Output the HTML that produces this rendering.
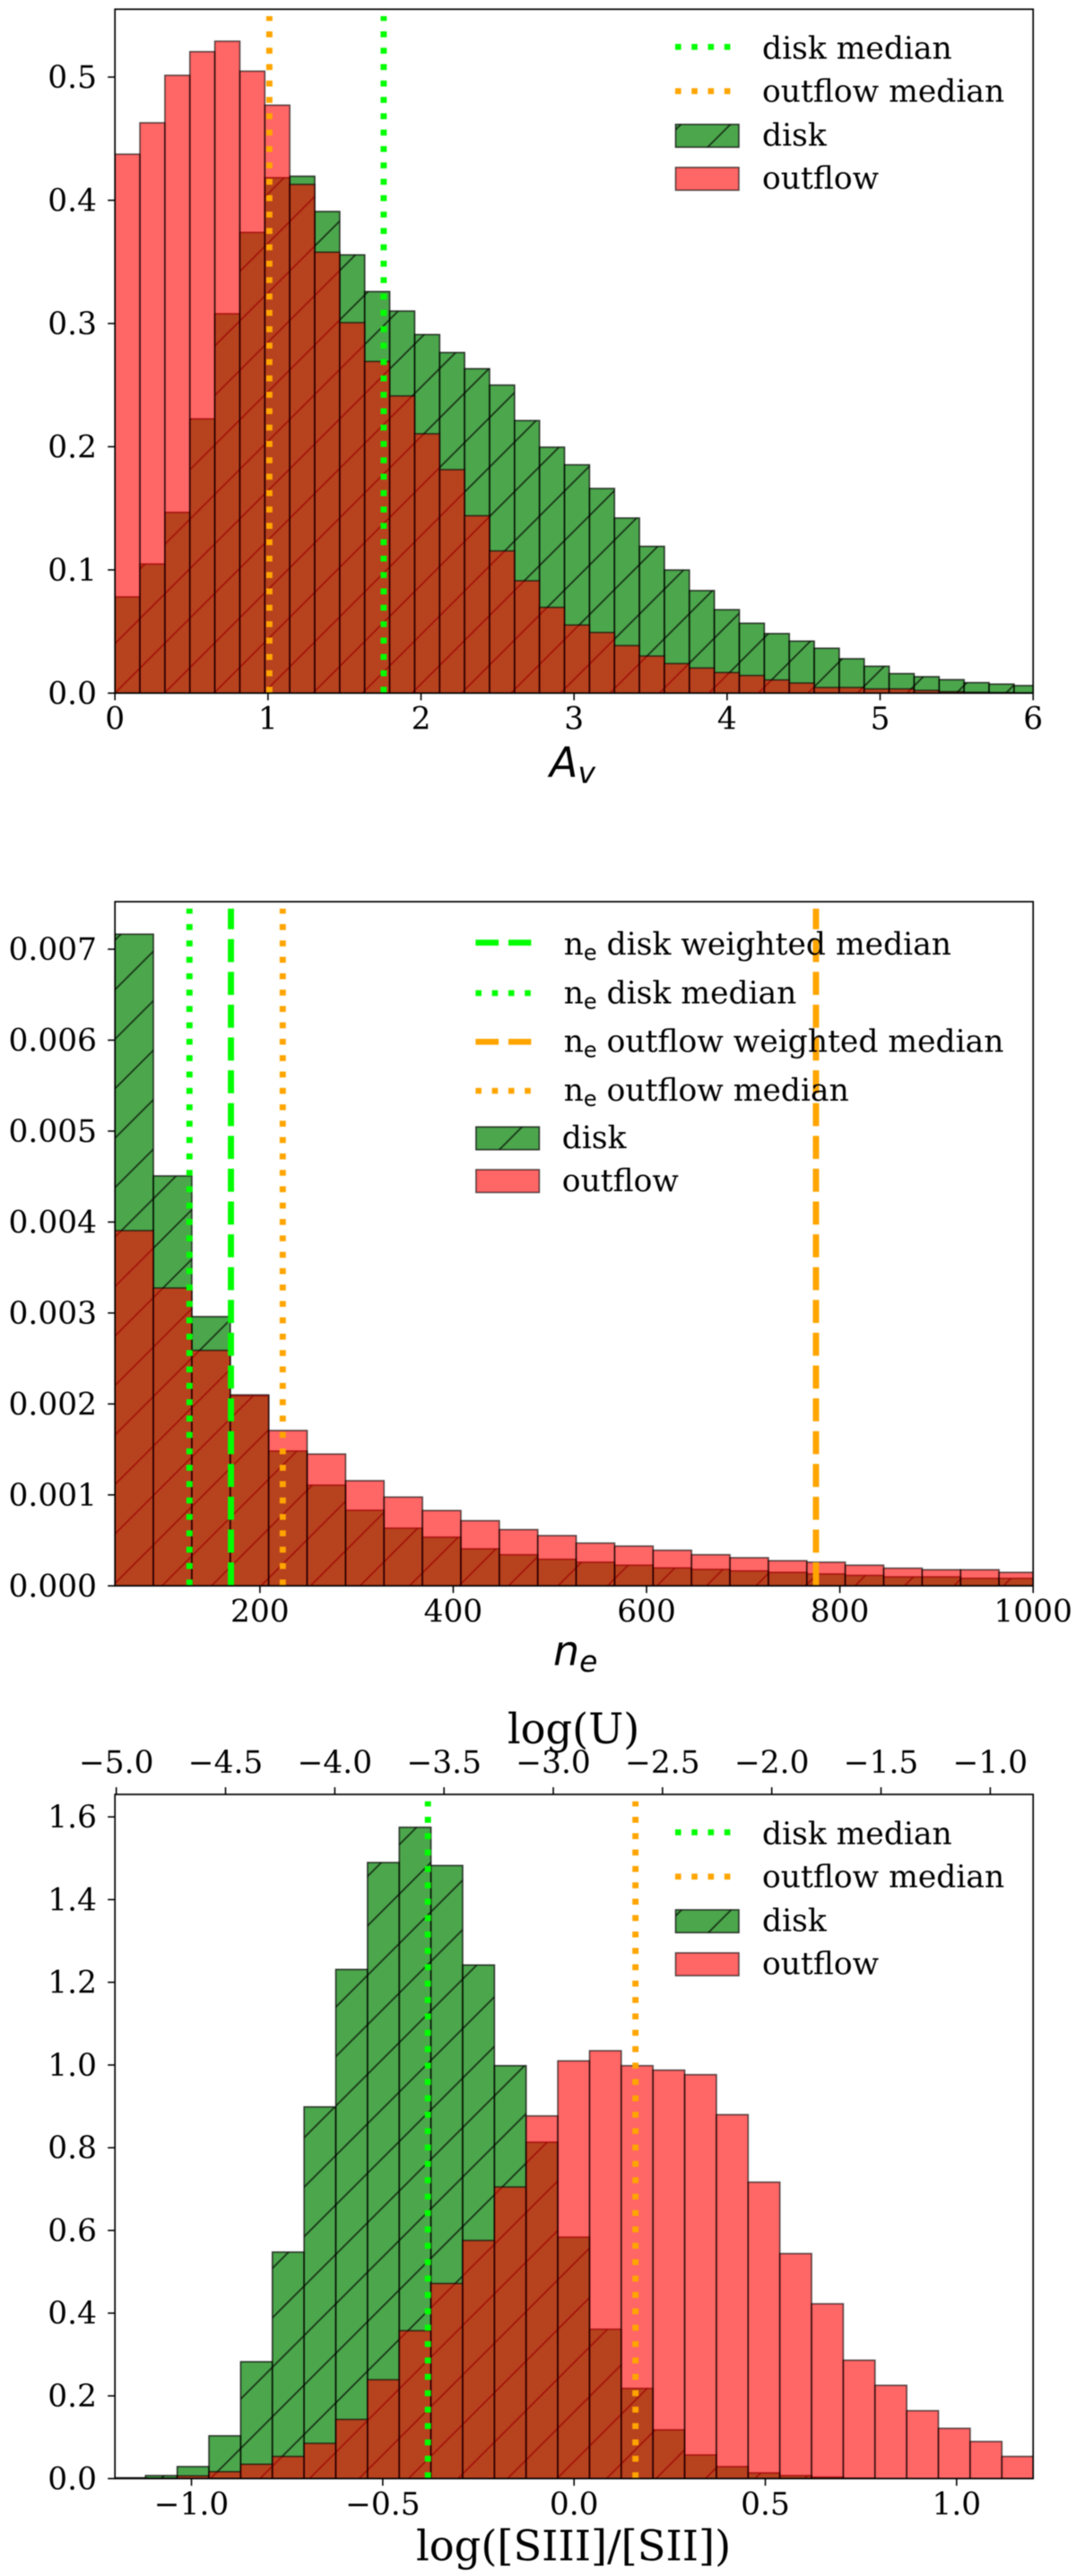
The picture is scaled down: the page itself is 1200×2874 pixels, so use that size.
<!DOCTYPE html>
<html>
<head>
<meta charset="utf-8">
<title>Histograms of Av, ne and log([SIII]/[SII])</title>
<style>
html,body{margin:0;padding:0;background:#fff;width:1200px;height:2874px;overflow:hidden}
svg{display:block;filter:blur(.45px)}
text{font-family:"DejaVu Serif","Liberation Serif",serif;fill:#000}
</style>
</head>
<body>
<svg id="figure" xmlns="http://www.w3.org/2000/svg" width="1200" height="2874" viewBox="0 0 1200 2874">
<defs id="defs"></defs>
</svg>
<script>
// ---------- Av panel data ----------
const avBinStart = 0;
const avBinWidth = 0.1632;
const avDisk = [0.0781,0.1048,0.1467,0.2226,0.3079,0.3739,0.4183,0.4195,0.3909,0.3557,0.3259,0.3101,0.2910,0.2764,0.2633,0.2500,0.2212,0.1996,0.1853,0.1661,0.1421,0.1191,0.0999,0.0832,0.0677,0.0567,0.0483,0.0422,0.0364,0.0279,0.0218,0.0158,0.0133,0.0109,0.0085,0.0073,0.0061];
const avOutflow = [0.4374,0.4629,0.5014,0.5206,0.5291,0.5048,0.4772,0.4129,0.3579,0.3007,0.2692,0.2412,0.2105,0.1814,0.1440,0.1154,0.0912,0.0696,0.0553,0.0492,0.0386,0.0301,0.0240,0.0204,0.0167,0.0143,0.0107,0.0082,0.0046,0.0046,0.0034,0.0034,0.0022,0.0012,0.0007,0.0005,0.0002];
const avXTicks = [0,1,2,3,4,5,6];
const avXLabels = ['0','1','2','3','4','5','6'];
const avYTicks = [0,0.1,0.2,0.3,0.4,0.5];
const avYLabels = ['0.0','0.1','0.2','0.3','0.4','0.5'];
const avDiskMedian = 1.756;
const avOutflowMedian = 1.009;

// ---------- ne panel data ----------
const neBinStart = 50;
const neBinWidth = 39.77;
const neDisk = [0.007165,0.004507,0.00296,0.00209,0.001482,0.001107,0.000831,0.000634,0.000535,0.000407,0.000342,0.000292,0.00026,0.000227,0.000197,0.000181,0.000164,0.000148,0.000131,0.000115,0.0000986,0.0000986,0.0000821,0.0000821];
const neOutflow = [0.003906,0.003275,0.002589,0.0021,0.001708,0.001449,0.001156,0.000976,0.000828,0.000716,0.000618,0.000552,0.00047,0.000437,0.000391,0.000342,0.000309,0.000276,0.00026,0.000227,0.000194,0.000177,0.000177,0.000148];
const neXTicks = [200,400,600,800,1000];
const neXLabels = ['200','400','600','800','1000'];
const neYTicks = [0,0.001,0.002,0.003,0.004,0.005,0.006,0.007];
const neYLabels = ['0.000','0.001','0.002','0.003','0.004','0.005','0.006','0.007'];
const neDiskMedian = 127.1;
const neDiskWeightedMedian = 170;
const neOutflowMedian = 223.6;
const neOutflowWeightedMedian = 775.3;

// ---------- log([SIII]/[SII]) panel data ----------
const siiiBinStart = -1.203;
const siiiBinWidth = 0.0829;
const siiiDisk = [0.002,0.0072,0.0289,0.1033,0.2825,0.5476,0.8987,1.231,1.4896,1.5748,1.4823,1.2418,0.9983,0.8134,0.5837,0.3611,0.218,0.1178,0.0571,0.0289,0.0137,0.0072,0.0036,0.001,0,0,0,0,0];
const siiiOutflow = [0,0.001,0.0065,0.0166,0.0347,0.0535,0.0852,0.143,0.2391,0.3576,0.4718,0.5758,0.7051,0.8769,1.01,1.0345,0.9983,0.9875,0.9766,0.8799,0.7167,0.544,0.4226,0.2861,0.2254,0.164,0.1214,0.0896,0.0535];
const siiiXTicks = [-1,-0.5,0,0.5,1];
const siiiXLabels = ['\u22121.0','\u22120.5','0.0','0.5','1.0'];
const siiiYTicks = [0,0.2,0.4,0.6,0.8,1,1.2,1.4,1.6];
const siiiYLabels = ['0.0','0.2','0.4','0.6','0.8','1.0','1.2','1.4','1.6'];
const logUTicks = [-5,-4.5,-4,-3.5,-3,-2.5,-2,-1.5,-1];
const logULabels = ['\u22125.0','\u22124.5','\u22124.0','\u22123.5','\u22123.0','\u22122.5','\u22122.0','\u22121.5','\u22121.0'];
const siiiDiskMedian = -0.382;
const siiiOutflowMedian = 0.1605;

// ---------- drawing ----------
const NS = 'http://www.w3.org/2000/svg';
const svg = document.getElementById('figure');
const defs = document.getElementById('defs');
const GREEN = '#00ff00';
const ORANGE = '#ffa500';
const TICK_SIZE = 34.4;
const LEGEND_SIZE = 34.5;
const HATCH_PERIOD = 55.2;
const DOT = '6.6 11.68';
const DASH = '25.7 10.9';

function node(tag, attrs, parent) {
  const e = document.createElementNS(NS, tag);
  for (const k in attrs) e.setAttribute(k, attrs[k]);
  if (parent) parent.appendChild(e);
  return e;
}
function label(parent, x, y, str, size, anchor) {
  const t = node('text', {x: x, y: y, 'font-size': size, 'text-anchor': anchor || 'start'}, parent);
  t.textContent = str;
  return t;
}
function makeHatch(id, phase) {
  const P = HATCH_PERIOD;
  const p = node('pattern', {id: id, patternUnits: 'userSpaceOnUse', width: P, height: P,
    patternTransform: 'translate(' + phase + ' 0)'}, defs);
  node('path', {d: 'M0 ' + P + 'L' + P + ' 0M-2 2L2 -2M' + (P - 2) + ' ' + (P + 2) + 'L' + (P + 2) + ' ' + (P - 2),
    stroke: '#000', 'stroke-opacity': 0.7, 'stroke-width': 1.7, fill: 'none'}, p);
}

function drawPanel(cfg) {
  const g = node('g', {}, svg);
  
  
  const L = 128.2, R = 1152.2;
  const xScale = v => L + (v - cfg.xMin) / (cfg.xMax - cfg.xMin) * (R - L);
  const yScale = v => cfg.bottom - v * cfg.yPerUnit;

  const clip = node('clipPath', {id: cfg.name + '-clip'}, defs);
  node('rect', {x: L, y: cfg.top, width: R - L, height: cfg.bottom - cfg.top}, clip);
  makeHatch(cfg.name + '-hatch', cfg.hatchPhase);
  makeHatch(cfg.name + '-legend-hatch', cfg.legendHatchPhase);

  const plot = node('g', {'clip-path': 'url(#' + cfg.name + '-clip)'}, g);
  
  

  // disk histogram
  cfg.disk.forEach((v, i) => {
    const x0 = xScale(cfg.binStart + i * cfg.binWidth);
    const x1 = xScale(cfg.binStart + (i + 1) * cfg.binWidth);
    const y = yScale(v);
    const attrs = {x: x0, y: y, width: x1 - x0, height: cfg.bottom - y};
    const bar = node('rect', Object.assign({fill: 'rgb(0,128,0)', 'fill-opacity': 0.7}, attrs), plot);
    
    
    const hatch = node('rect', Object.assign({fill: 'url(#' + cfg.name + '-hatch)', stroke: '#000', 'stroke-opacity': 0.7, 'stroke-width': 1.7}, attrs), plot);
    
    
  });
  // outflow histogram
  cfg.outflow.forEach((v, i) => {
    const x0 = xScale(cfg.binStart + i * cfg.binWidth);
    const x1 = xScale(cfg.binStart + (i + 1) * cfg.binWidth);
    const y = yScale(v);
    const bar = node('rect', {x: x0, y: y, width: x1 - x0, height: cfg.bottom - y, fill: 'rgb(255,0,0)', 'fill-opacity': 0.6,
      stroke: '#000', 'stroke-opacity': 0.6, 'stroke-width': 1.7}, plot);
    
    
  });
  // median lines
  cfg.medians.forEach(m => {
    const x = xScale(m.value);
    const line = node('line', {x1: x, x2: x, y1: cfg.bottom - 0.5, y2: cfg.top + 7.7, stroke: m.color, 'stroke-width': 6.9,
      'stroke-dasharray': m.dashed ? DASH : DOT}, plot);
    
    
  });

  // spines
  const spine = node('rect', {x: L, y: cfg.top, width: R - L, height: cfg.bottom - cfg.top, fill: 'none', stroke: '#000', 'stroke-width': 1.7}, g);
  
  

  // y axis
  cfg.yTicks.forEach((v, i) => {
    const y = yScale(v);
    const tick = node('line', {x1: L - 8, x2: L, y1: y, y2: y, stroke: '#000', 'stroke-width': 1.6}, g);
    
    
    const t = label(g, 108, y + 12, cfg.yLabels[i], TICK_SIZE, 'end');
    
    
  });
  // x axis
  cfg.xTicks.forEach((v, i) => {
    const x = xScale(v);
    const tick = node('line', {x1: x, x2: x, y1: cfg.bottom, y2: cfg.bottom + 8, stroke: '#000', 'stroke-width': 1.6}, g);
    
    
    const t = label(g, x, cfg.bottom + 40, cfg.xLabels[i], TICK_SIZE, 'middle');
    
    
  });

  // legend
  const leg = node('g', {}, g);
  
  
  cfg.legend.forEach(item => {
    const e = node('g', {}, leg);
    
    
    const hx = cfg.legendX;
    if (item.kind === 'line') {
      const h = node('line', {x1: hx, x2: hx + 62, y1: item.y, y2: item.y, stroke: item.color, 'stroke-width': 6.6,
        'stroke-dasharray': item.dashed ? DASH : DOT}, e);
      
      
    } else {
      const attrs = {x: hx + 0.5, y: item.y, width: 70.5, height: 25.4};
      const base = node('rect', Object.assign({fill: item.fill, 'fill-opacity': item.alpha}, attrs), e);
      
      
      const o = node('rect', Object.assign({fill: item.hatched ? 'url(#' + cfg.name + '-legend-hatch)' : 'none', stroke: '#000',
        'stroke-opacity': item.alpha, 'stroke-width': 1.7}, attrs), e);
      
      
    }
    const t = node('text', {x: item.textX, y: item.base, 'font-size': LEGEND_SIZE}, e);
    
    
    if (item.math) {
      const n = node('tspan', {}, t); n.textContent = 'n';
      const s = node('tspan', {dy: 6, 'font-size': 24, style: 'font-family:"DejaVu Sans",sans-serif'}, t); s.textContent = 'e';
      const r = node('tspan', {dy: -6}, t); r.textContent = '\u00a0' + item.text;
    } else {
      t.textContent = item.text;
    }
  });
  return {g: g, xScale: xScale, yScale: yScale};
}

function stdLegend(offset) {
  const tx = 850;
  return [
    {kind: 'line', color: GREEN, y: 52.3 + offset, text: 'disk median', textX: tx, base: 65.3 + offset},
    {kind: 'line', color: ORANGE, y: 101.7 + offset, text: 'outflow median', textX: tx, base: 113.3 + offset},
    {kind: 'patch', fill: 'rgb(0,128,0)', alpha: 0.7, hatched: true, y: 138.8 + offset, text: 'disk', textX: tx, base: 162.7 + offset},
    {kind: 'patch', fill: 'rgb(255,0,0)', alpha: 0.6, hatched: false, y: 186.8 + offset, text: 'outflow', textX: tx, base: 210.7 + offset}
  ];
}

// Panel 1: Av
const p1 = drawPanel({
  name: 'av-panel', top: 10.3, bottom: 773.3, yPerUnit: 1374.6, xMin: 0, xMax: 6,
  binStart: avBinStart, binWidth: avBinWidth, disk: avDisk, outflow: avOutflow,
  xTicks: avXTicks, xLabels: avXLabels, yTicks: avYTicks, yLabels: avYLabels,
  hatchPhase: 18.3, legendHatchPhase: 15, legendX: 753,
  medians: [
    {value: avDiskMedian, color: GREEN, name: 'disk-median-line'},
    {value: avOutflowMedian, color: ORANGE, name: 'outflow-median-line'}
  ],
  legend: stdLegend(0)
});
const avTitle = node('text', {x: 613, y: 866.7, 'font-size': 46, style: 'font-family:"DejaVu Sans",sans-serif;font-style:italic'}, p1.g);


const avA = node('tspan', {}, avTitle); avA.textContent = 'A';
const avV = node('tspan', {dy: 7, 'font-size': 33}, avTitle); avV.textContent = 'v';

// Panel 2: ne
const neTx = 628.7;
const p2 = drawPanel({
  name: 'ne-panel', top: 1006, bottom: 1769.3, yPerUnit: 101470, xMin: 50, xMax: 1000,
  binStart: neBinStart, binWidth: neBinWidth, disk: neDisk, outflow: neOutflow,
  xTicks: neXTicks, xLabels: neXLabels, yTicks: neYTicks, yLabels: neYLabels,
  hatchPhase: 18, legendHatchPhase: 17.9, legendX: 530.4,
  medians: [
    {value: neDiskWeightedMedian, color: GREEN, dashed: true, name: 'disk-weighted-median-line'},
    {value: neDiskMedian, color: GREEN, name: 'disk-median-line'},
    {value: neOutflowWeightedMedian, color: ORANGE, dashed: true, name: 'outflow-weighted-median-line'},
    {value: neOutflowMedian, color: ORANGE, name: 'outflow-median-line'}
  ],
  legend: [
    {kind: 'line', color: GREEN, dashed: true, y: 1051.7, math: true, text: 'disk weighted median', textX: neTx, base: 1065},
    {kind: 'line', color: GREEN, y: 1108, math: true, text: 'disk median', textX: neTx, base: 1119.3},
    {kind: 'line', color: ORANGE, dashed: true, y: 1162.3, math: true, text: 'outflow weighted median', textX: neTx, base: 1173.3},
    {kind: 'line', color: ORANGE, y: 1217, math: true, text: 'outflow median', textX: neTx, base: 1228},
    {kind: 'patch', fill: 'rgb(0,128,0)', alpha: 0.7, hatched: true, y: 1257.3, text: 'disk', textX: 626.8, base: 1281},
    {kind: 'patch', fill: 'rgb(255,0,0)', alpha: 0.6, hatched: false, y: 1305, text: 'outflow', textX: 626.8, base: 1329}
  ]
});
const neTitle = node('text', {x: 617, y: 1858, 'font-size': 46, style: 'font-family:"DejaVu Sans",sans-serif;font-style:italic'}, p2.g);


const neN = node('tspan', {}, neTitle); neN.textContent = 'n';
const neE = node('tspan', {dy: 7, 'font-size': 33}, neTitle); neE.textContent = 'e';

// Panel 3: log([SIII]/[SII])
const p3 = drawPanel({
  name: 'siii-panel', top: 2002, bottom: 2765.3, yPerUnit: 461.4, xMin: -1.2, xMax: 1.2,
  binStart: siiiBinStart, binWidth: siiiBinWidth, disk: siiiDisk, outflow: siiiOutflow,
  xTicks: siiiXTicks, xLabels: siiiXLabels, yTicks: siiiYTicks, yLabels: siiiYLabels,
  hatchPhase: 19.3, legendHatchPhase: 20.6, legendX: 753,
  medians: [
    {value: siiiDiskMedian, color: GREEN, name: 'disk-median-line'},
    {value: siiiOutflowMedian, color: ORANGE, name: 'outflow-median-line'}
  ],
  legend: stdLegend(1992)
});
const siiiTitle = label(p3.g, 639.6, 2856.7, 'log([SIII]/[SII])', 46.3, 'middle');



// secondary top axis: log(U)
const logUScale = v => 129.7 + (v + 5) * 243.67;
logUTicks.forEach((v, i) => {
  const x = logUScale(v);
  const tick = node('line', {x1: x, x2: x, y1: 2002, y2: 1994, stroke: '#000', 'stroke-width': 1.6}, p3.g);
  
  
  const t = label(p3.g, x, 1978, logULabels[i], TICK_SIZE, 'middle');
  
  
});
const logUTitle = label(p3.g, 639.6, 1945, 'log(U)', 46.3, 'middle');


</script>
</body>
</html>
